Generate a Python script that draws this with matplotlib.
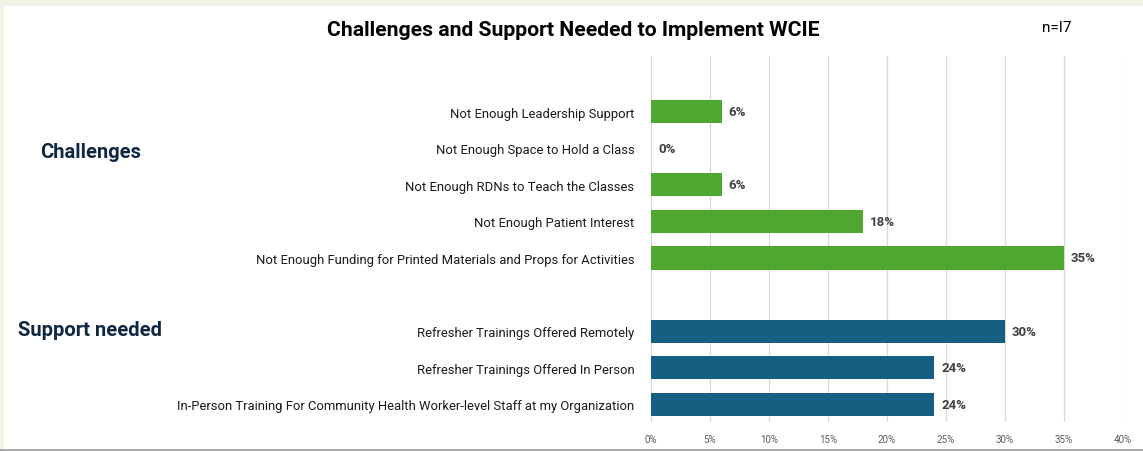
import matplotlib
matplotlib.use('Agg')
import matplotlib.pyplot as plt
from matplotlib.patches import Rectangle
from matplotlib.lines import Line2D

plt.rcParams['font.family'] = ['Roboto', 'DejaVu Sans']

challenges = ['Not Enough Leadership Support',
              'Not Enough Space to Hold a Class',
              'Not Enough RDNs to Teach the Classes',
              'Not Enough Patient Interest',
              'Not Enough Funding for Printed Materials and Props for Activities']
challenge_vals = [6, 0, 6, 18, 35]

support = ['Refresher Trainings Offered Remotely',
           'Refresher Trainings Offered In Person',
           'In-Person Training For Community Health Worker-level Staff at my Organization']
support_vals = [30, 24, 24]

xticks = [0, 5, 10, 15, 20, 25, 30, 35, 40]

green = '#4ea72e'
blue = '#156082'
navy = '#0e2841'

W, H = 1143, 452
fig = plt.figure(figsize=(W / 100, H / 100), dpi=100)

# frame decorations (beige strips and bottom rule)
fig.patches.append(Rectangle((0, 1 - 7 / H), 1, 7 / H, transform=fig.transFigure,
                             facecolor='#f2f2e6', edgecolor='none', zorder=-1))
fig.patches.append(Rectangle((0, 0), 4 / W, 1, transform=fig.transFigure,
                             facecolor='#f2f2e6', edgecolor='none', zorder=-1))
fig.lines.append(Line2D([0, 1], [1.5 / H, 1.5 / H], transform=fig.transFigure,
                        color='#a6a6a6', lw=2))

# axes placed in pixel terms
x0, x1 = 651, 1123
y_top, y_bot = 57, 423
ax = fig.add_axes([x0 / W, 1 - y_bot / H, (x1 - x0) / W, (y_bot - y_top) / H])

ypos_c = list(range(len(challenges)))
ypos_s = [len(challenges) + 1 + i for i in range(len(support))]

ax.barh(ypos_c, challenge_vals, height=0.63, color=green, zorder=2)
ax.barh(ypos_s, support_vals, height=0.63, color=blue, zorder=2)

for y, v in zip(ypos_c + ypos_s, challenge_vals + support_vals):
    ax.annotate(f'{v}%', xy=(v, y), xytext=(5, 0), textcoords='offset points',
                va='center', ha='left', fontsize=9.5, fontweight='bold', color='#404040')

ax.set_xlim(0, 40)
ax.set_ylim(ypos_s[-1] + 0.49, -1.53)
ax.set_xticks(xticks)
ax.set_xticklabels([f'{t}%' for t in xticks], fontsize=7, color='#595959')
ax.set_yticks(ypos_c + ypos_s)
ax.set_yticklabels(challenges + support, fontsize=9.4, color='#1a1a1a')
ax.tick_params(axis='both', length=0)
ax.tick_params(axis='y', pad=12)
ax.tick_params(axis='x', pad=9)
ax.grid(axis='x', color='#d9d9d9', lw=0.9, zorder=0)
for s in ax.spines.values():
    s.set_visible(False)

fig.text(573 / W, 1 - 30 / H, 'Challenges and Support Needed to Implement WCIE',
         ha='center', va='center', fontsize=15.2, fontweight='bold', color='#000000')
fig.text(1057 / W, 1 - 28 / H, 'n=I7', ha='center', va='center', fontsize=11, color='#000000')
fig.text(40 / W, 1 - 152 / H, 'Challenges', ha='left', va='center',
         fontsize=14.5, fontweight='bold', color=navy)
fig.text(18 / W, 1 - 331 / H, 'Support needed', ha='left', va='center',
         fontsize=14.5, fontweight='bold', color=navy)

fig.savefig('out.png', dpi=100)
